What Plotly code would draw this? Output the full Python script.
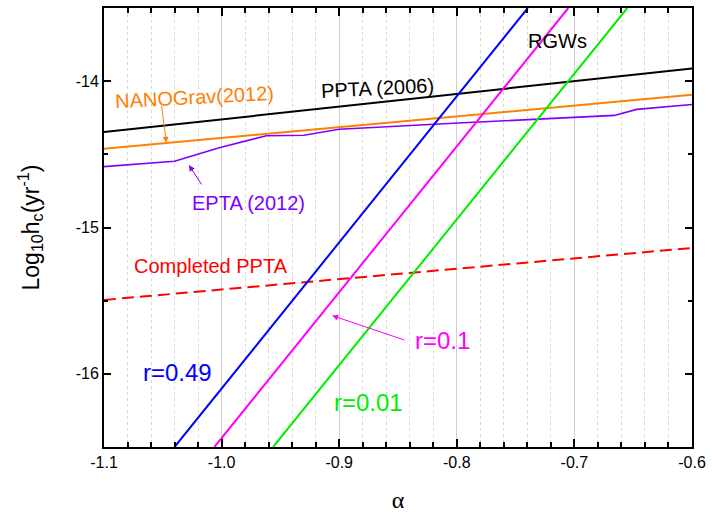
import plotly.graph_objects as go

# ---- data ----
alpha_ppta2006 = [-1.1, -0.6]
hc_ppta2006 = [-14.348, -13.913]

alpha_nanograv = [-1.1, -0.6]
hc_nanograv = [-14.461, -14.093]

alpha_epta = [-1.1, -1.040, -1.002, -0.962, -0.930, -0.900, -0.799, -0.700, -0.666, -0.647, -0.6]
hc_epta = [-14.584, -14.547, -14.455, -14.373, -14.370, -14.329, -14.286, -14.250, -14.234, -14.193, -14.159]

alpha_completed = [-1.1, -0.6]
hc_completed = [-15.495, -15.14]

alpha_r049 = [-1.040, -0.7396]
hc_r049 = [-16.5, -13.5]

alpha_r01 = [-1.0061, -0.7052]
hc_r01 = [-16.5, -13.5]

alpha_r001 = [-0.9562, -0.655]
hc_r001 = [-16.5, -13.5]

x_ticks = [-1.1, -1.0, -0.9, -0.8, -0.7, -0.6]
x_ticklabels = ["-1.1", "-1.0", "-0.9", "-0.8", "-0.7", "-0.6"]
y_ticks = [-16, -15, -14]
y_ticklabels = ["-16", "-15", "-14"]

FONT = "Liberation Sans, Arial, sans-serif"

fig = go.Figure()

def add_line(x, y, color, dash="solid", width=2):
    fig.add_trace(go.Scatter(x=x, y=y, mode="lines",
                             line=dict(color=color, width=width, dash=dash),
                             showlegend=False, hoverinfo="skip"))

add_line(alpha_ppta2006, hc_ppta2006, "#000000")
add_line(alpha_nanograv, hc_nanograv, "#FF8000")
add_line(alpha_epta, hc_epta, "#8000FF", width=1.6)
add_line(alpha_completed, hc_completed, "#FF0000", dash="12px,6px")
add_line(alpha_r049, hc_r049, "#0000FF")
add_line(alpha_r01, hc_r01, "#FF00FF")
add_line(alpha_r001, hc_r001, "#00EE00")

# text labels
labels = [
    ("PPTA (2006)", -0.8673, -14.045, "#000000", 20, -3),
    ("NANOGrav(2012)", -1.023, -14.105, "#FF8000", 20, -3),
    ("EPTA (2012)", -0.9773, -14.83, "#8000FF", 20, 0),
    ("Completed PPTA", -1.0089, -15.261, "#FF0000", 20, 0),
    ("RGWs", -0.714, -13.727, "#000000", 20, 0),
    ("r=0.49", -1.0378, -15.989, "#0000FF", 24, 0),
    ("r=0.1", -0.8124, -15.772, "#FF00FF", 24, 0),
    ("r=0.01", -0.875, -16.193, "#00EE00", 24, 0),
]
for t, x, y, c, s, ang in labels:
    fig.add_annotation(x=x, y=y, text=t, showarrow=False, textangle=ang,
                       font=dict(family=FONT, size=s, color=c),
                       xanchor="center", yanchor="middle")

# arrows (head at x,y ; tail at ax,ay)
arrows = [
    (-1.047, -14.421, -1.0512, -14.159, "#FF8000", 2),
    (-1.0278, -14.573, -1.0162, -14.716, "#8000FF", 2),
    (-0.906, -15.602, -0.8434, -15.772, "#FF00FF", 2),
]
for x, y, ax, ay, c, head in arrows:
    fig.add_annotation(x=x, y=y, ax=ax, ay=ay, xref="x", yref="y",
                       axref="x", ayref="y", text="", showarrow=True,
                       arrowhead=head, arrowsize=1.2, arrowwidth=1,
                       arrowcolor=c)

fig.update_xaxes(range=[-1.1, -0.6], tickvals=x_ticks, ticktext=x_ticklabels,
                 ticks="inside", ticklen=8, tickwidth=1.5, tickcolor="black",
                 showline=True, linecolor="black", linewidth=2, mirror="allticks",
                 showgrid=True, gridcolor="#D0D0D0", gridwidth=1,
                 zeroline=False,
                 minor=dict(dtick=0.02, ticks="inside", ticklen=5, tickcolor="black",
                            showgrid=True, gridcolor="#D8D8D8", griddash="dot", gridwidth=1),
                 tickfont=dict(family=FONT, size=16, color="black"),
                 title=dict(text="α", font=dict(family="Liberation Serif, Times New Roman, serif",
                                                 size=24, color="black"), standoff=21))
fig.update_yaxes(range=[-16.5, -13.5], tickvals=y_ticks, ticktext=y_ticklabels,
                 ticks="inside", ticklen=7, tickwidth=1.5, tickcolor="black",
                 showline=True, linecolor="black", linewidth=2, mirror="allticks",
                 showgrid=False, zeroline=False,
                 minor=dict(dtick=0.5, ticks="inside", ticklen=4, tickcolor="black", showgrid=False),
                 tickfont=dict(family=FONT, size=16, color="black"),
                 title=dict(text="Log<sub>10</sub>h<sub>c</sub>(yr<sup>-1</sup>)",
                            font=dict(family=FONT, size=23, color="black"), standoff=30))

fig.update_layout(width=712, height=515, margin=dict(l=104, r=17, t=6, b=68),
                  plot_bgcolor="white", paper_bgcolor="white", showlegend=False)

fig.write_html("out.html")
